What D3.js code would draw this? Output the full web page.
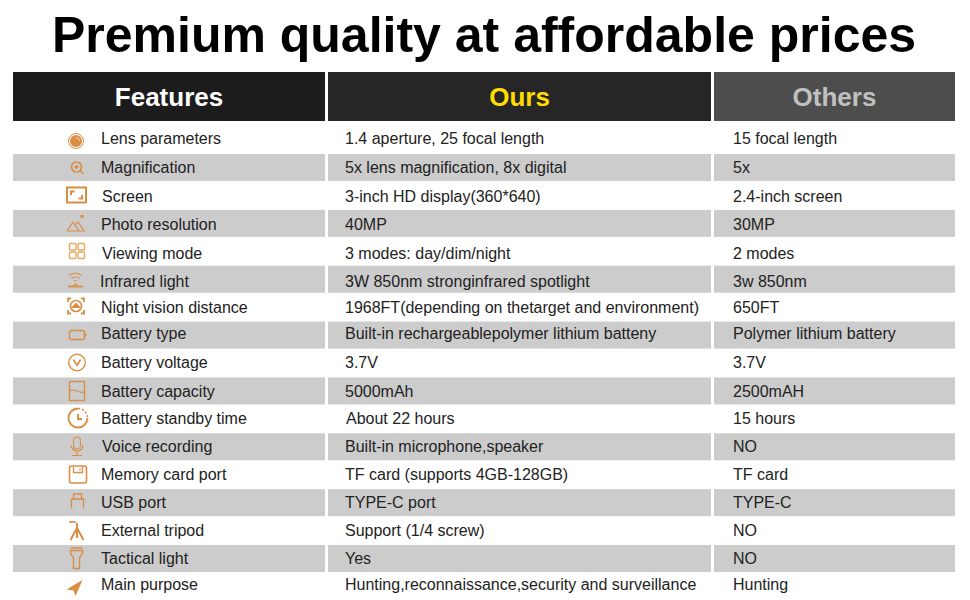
<!DOCTYPE html>
<html>
<head>
<meta charset="utf-8">
<script src="https://d3js.org/d3.v7.min.js"></script>
<style>
html, body {margin: 0; padding: 0; background: #fff;}
svg {display: block;}
text {font-family: "Liberation Sans", Arial, sans-serif;}
</style>
</head>
<body>
<svg width="970" height="600"></svg>
<script>
var title = "Premium quality at affordable prices";
var columns = ["Features", "Ours", "Others"];

var features = ["Lens parameters", "Magnification", "Screen", "Photo resolution", "Viewing mode",
  "Infrared light", "Night vision distance", "Battery type", "Battery voltage", "Battery capacity",
  "Battery standby time", "Voice recording", "Memory card port", "USB port", "External tripod",
  "Tactical light", "Main purpose"];
var ours = ["1.4 aperture, 25 focal length", "5x lens magnification, 8x digital", "3-inch HD display(360*640)",
  "40MP", "3 modes: day/dim/night", "3W 850nm stronginfrared spotlight",
  "1968FT(depending on thetarget and environment)", "Built-in rechargeablepolymer lithium batteny", "3.7V",
  "5000mAh", "About 22 hours", "Built-in microphone,speaker", "TF card (supports 4GB-128GB)", "TYPE-C port",
  "Support (1/4 screw)", "Yes", "Hunting,reconnaissance,security and surveillance"];
var others = ["15 focal length", "5x", "2.4-inch screen", "30MP", "2 modes", "3w 850nm", "650FT",
  "Polymer lithium battery", "3.7V", "2500mAH", "15 hours", "NO", "TF card", "TYPE-C", "NO", "NO", "Hunting"];
var icons = ["lens", "zoom", "screen", "photo", "modes", "infrared", "night", "battery", "volt", "capacity",
  "clock", "mic", "card", "usb", "tripod", "torch", "arrow"];

var svg = d3.select("svg");
var orange = "#d98d45";

// the source table is hand placed, rows wander a few px off the even grid
var textShift = [-1, 0, 1, 1, 2, 2, 0, -2, -1, 1, 0, 0, 0, 0, 0, 0, -2];
var featureShift = [0, 0, 1, 0, 1, -1, 0, 0, 0, 0, 0, 1, 0, 0, 0, 0, 0];
var oursShift = [0, 0, 0, 0, 0, 0, 0, 0, 0, 0, 1, 0, 0, 0, 0, 0, 0];
var iconX = [76, 77, 76.5, 76, 77, 75.5, 76, 77.5, 77, 77, 78, 77, 78, 77.5, 77, 76.5, 74.5];
var iconY = [141, 168, 195, 223, 251, 279.5, 306, 335, 362.5, 391, 418, 446, 474.5, 501, 531, 558, 588];

var y = d3.scaleLinear().domain([1, 15]).range([167.5, 558.5]);
var x = d3.scaleOrdinal().domain(columns).range([13, 328, 714]);
var w = d3.scaleOrdinal().domain(columns).range([312, 383, 241]);
var textX = d3.scaleOrdinal().domain(columns).range([101, 345, 733]);

svg.append("text")
  .attr("x", 484).attr("y", 52)
  .attr("text-anchor", "middle")
  .attr("font-size", 50).attr("font-weight", "bold")
  .attr("fill", "#000")
  .text(title);

// header cells
var head = svg.selectAll("g.head").data(columns).enter().append("g").attr("class", "head");
head.append("rect")
  .attr("x", function(d) {return x(d);})
  .attr("y", 72).attr("height", 49)
  .attr("width", function(d) {return w(d);})
  .attr("fill", function(d, i) {return ["#1c1c1c", "#262626", "#4d4d4d"][i];});
head.append("text")
  .attr("x", function(d) {return x(d) + w(d) / 2;})
  .attr("y", 106)
  .attr("text-anchor", "middle")
  .attr("font-size", 26).attr("font-weight", "bold")
  .attr("fill", function(d, i) {return ["#ffffff", "#ffdd00", "#c0c0c0"][i];})
  .text(function(d) {return d;});

// grey stripes on every second row
var stripeRows = d3.range(1, features.length, 2);
columns.forEach(function(c) {
  svg.selectAll("rect.s" + c).data(stripeRows).enter().append("rect")
    .attr("class", "s" + c)
    .attr("x", x(c)).attr("width", w(c))
    .attr("y", function(d) {return y(d) - 13.5;})
    .attr("height", 27)
    .attr("fill", "#cccccc");
});

function addColumn(col, values, shiftX) {
  svg.selectAll("text.c" + col).data(values).enter().append("text")
    .attr("class", "c" + col)
    .attr("x", function(d, i) {return textX(col) + (shiftX ? shiftX[i] : 0);})
    .attr("y", function(d, i) {return y(i) + textShift[i] + 5.5;})
    .attr("font-size", 16)
    .attr("fill", "#222")
    .text(function(d) {return d;});
}
addColumn("Features", features, featureShift);
addColumn("Ours", ours, oursShift);
addColumn("Others", others, null);

function line(g, d, sw, col) {
  g.append("path").attr("d", d).attr("fill", "none").attr("stroke", col || orange).attr("stroke-width", sw);
}

// icons, drawn around (0,0) in a box about 20px wide
var iconDraw = {
  lens: function(g) {
    g.append("circle").attr("r", 7.5).attr("fill", "none").attr("stroke", orange);
    g.append("circle").attr("r", 6).attr("fill", orange);
    line(g, "M0,-3.5A3.5,3.5 0 0 1 3.5,0", 1, "#f4d9bd");
  },
  zoom: function(g) {
    g.append("circle").attr("cx", -0.5).attr("cy", -1).attr("r", 5).attr("fill", "none").attr("stroke", orange).attr("stroke-width", 1.7);
    line(g, "M3.5,3L6.5,6M-2.5,-1H1.5M-0.5,-3V1", 1.7);
  },
  screen: function(g) {
    g.append("rect").attr("x", -9.5).attr("y", -7.5).attr("width", 19).attr("height", 15).attr("fill", "none").attr("stroke", orange).attr("stroke-width", 2);
    line(g, "M-5.5,0V-3.5H-2M5.5,0V3.5H2", 2);
  },
  photo: function(g) {
    line(g, "M-9,8L-3,-1L3,8M-1,2L2,-1L8,8M-9,8H9", 1.2);
    g.append("circle").attr("cx", 6).attr("cy", -6.5).attr("r", 1.8).attr("fill", orange);
  },
  modes: function(g) {
    [[-7.5, -7.5], [1, -7.5], [-7.5, 1], [1, 1]].forEach(function(p) {
      g.append("rect").attr("x", p[0]).attr("y", p[1]).attr("width", 6.5).attr("height", 6.5).attr("rx", 1.2).attr("fill", "none").attr("stroke", "#e6a95c").attr("stroke-width", 1.4);
    });
  },
  infrared: function(g) {
    line(g, "M-6,-4A9,9 0 0 1 6,-4M-4,-1A6,6 0 0 1 4,-1M-1.5,1.5A3,3 0 0 1 1.5,1.5", 1.1);
    line(g, "M-7.5,7H7.5", 1.8);
    line(g, "M-2,6L0,4.5L2,6", 1.4);
  },
  night: function(g) {
    line(g, "M-8,-4V-7.5H-5M5,-7.5H8V-4M8,4V7.5H5M-5,7.5H-8V4", 1.8);
    g.append("circle").attr("r", 5.5).attr("fill", "none").attr("stroke", orange).attr("stroke-width", 1.6);
    g.append("path").attr("d", "M-5,2L0,-3.5L5,2Z").attr("fill", orange);
  },
  battery: function(g) {
    g.append("rect").attr("x", -8).attr("y", -4.5).attr("width", 15).attr("height", 9).attr("rx", 2).attr("fill", "none").attr("stroke", orange).attr("stroke-width", 1.5);
    line(g, "M8,-1.5V1.5", 1.6);
  },
  volt: function(g) {
    g.append("circle").attr("r", 8.3).attr("fill", "none").attr("stroke", orange).attr("stroke-width", 1.4);
    line(g, "M-3.5,-3L0,3L3.5,-3", 1.6);
  },
  capacity: function(g) {
    g.append("rect").attr("x", -7.5).attr("y", -9.5).attr("width", 15).attr("height", 19).attr("fill", "none").attr("stroke", orange).attr("stroke-width", 1.4);
    line(g, "M-7.5,0C-4,-2 -2,-1 0,0S4,2 7.5,1", 1.1);
  },
  clock: function(g) {
    line(g, "M0,-9.5A9.5,9.5 0 1 0 9.5,0", 1.9);
    g.append("path").attr("d", "M0,-9.5A9.5,9.5 0 0 1 9.5,0").attr("fill", "none").attr("stroke", orange).attr("stroke-width", 1.6).attr("stroke-dasharray", "2 2");
    line(g, "M0,-4V1H4", 1.8);
  },
  mic: function(g) {
    g.append("rect").attr("x", -3.5).attr("y", -9).attr("width", 7).attr("height", 12).attr("rx", 3.5).attr("fill", "none").attr("stroke", orange).attr("stroke-width", 1.1);
    line(g, "M-6,-1A6,6 0 0 0 6,-1M0,5V9M-5,9.5H5", 1.1);
  },
  card: function(g) {
    g.append("rect").attr("x", -8.5).attr("y", -8.5).attr("width", 17).attr("height", 17).attr("rx", 2).attr("fill", "none").attr("stroke", orange).attr("stroke-width", 1.6);
    line(g, "M-4.5,-8V-2H4.5V-8M2,-6V-4", 1.3);
  },
  usb: function(g) {
    line(g, "M-4,-2V-7H4V-2M-6,7.5V-2H6V7.5", 1.3);
  },
  tripod: function(g) {
    line(g, "M-8,-9H-1", 1.6);
    line(g, "M0,-8V-3M0,-3L-6.5,9M0,-3V7M0,-3L6.5,9", 2);
  },
  torch: function(g) {
    line(g, "M-6,-10H6M-6,-7.5H6V-5L3,0V10.5H-3V0L-6,-5Z", 1.4);
  },
  arrow: function(g) {
    g.append("path").attr("d", "M8,-8L-8,1.5L-1,2.5L1,8Z").attr("fill", orange);
  }
};
icons.forEach(function(name, i) {
  var g = svg.append("g").attr("transform", "translate(" + iconX[i] + "," + iconY[i] + ")");
  iconDraw[name](g);
});
</script>
</body>
</html>
